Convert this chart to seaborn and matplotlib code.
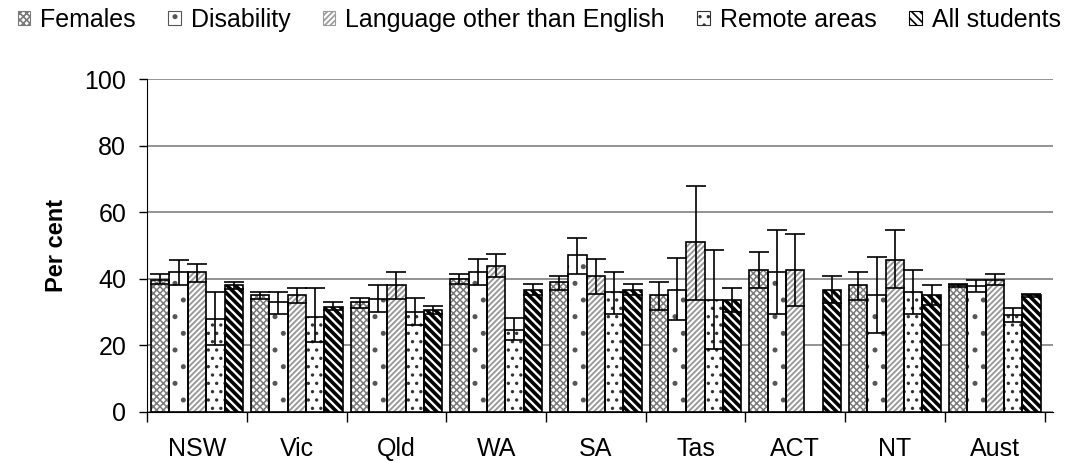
import numpy as np
import pandas as pd
import matplotlib
matplotlib.use('Agg')
import matplotlib.pyplot as plt
import seaborn as sns
from matplotlib.patches import Rectangle, Patch

states = ['NSW', 'Vic', 'Qld', 'WA', 'SA', 'Tas', 'ACT', 'NT', 'Aust']
groups = ['Females', 'Disability', 'Language other than English', 'Remote areas', 'All students']

females = [39.7, 35.0, 33.0, 39.8, 39.0, 35.0, 42.6, 38.0, 38.0]
disability = [42.1, 33.0, 33.8, 42.1, 47.0, 36.6, 42.0, 35.0, 37.8]
language = [42.0, 35.0, 38.0, 43.8, 40.8, 51.0, 42.6, 45.6, 39.6]
remote = [27.8, 28.6, 30.0, 24.6, 36.0, 33.6, 0.0, 36.0, 29.0]
all_students = [38.0, 31.6, 30.6, 36.6, 36.6, 33.6, 36.6, 35.0, 35.0]

# error bar bounds (low, high)
females_lo = [38.3, 34.0, 31.3, 38.3, 36.6, 30.6, 37.3, 33.6, 37.5]
females_hi = [41.3, 36.0, 34.2, 41.3, 40.9, 39.1, 48.0, 42.0, 38.5]
disability_lo = [38.0, 29.4, 30.0, 38.0, 41.4, 27.6, 29.4, 23.6, 36.0]
disability_hi = [45.7, 36.0, 38.0, 46.0, 52.2, 46.2, 54.6, 46.4, 39.6]
language_lo = [39.0, 32.7, 34.0, 40.4, 35.4, 33.6, 31.8, 37.3, 38.0]
language_hi = [44.4, 37.2, 42.0, 47.4, 46.0, 68.0, 53.4, 54.6, 41.4]
remote_lo = [20.0, 21.0, 26.0, 21.6, 29.4, 19.0, np.nan, 29.4, 27.0]
remote_hi = [36.0, 37.2, 34.2, 28.3, 42.0, 48.6, np.nan, 42.6, 31.2]
all_lo = [37.0, 30.6, 29.4, 35.0, 35.0, 30.0, 32.7, 32.0, 34.5]
all_hi = [39.0, 33.0, 31.8, 38.4, 38.4, 37.3, 40.8, 38.0, 35.5]

values = [females, disability, language, remote, all_students]
lows = [females_lo, disability_lo, language_lo, remote_lo, all_lo]
highs = [females_hi, disability_hi, language_hi, remote_hi, all_hi]

df = pd.DataFrame({
    'State': np.tile(states, len(groups)),
    'Group': np.repeat(groups, len(states)),
    'Value': np.concatenate(values),
})

hatches = ['xxxxx', '.', '//////', '..', '\\\\\\\\']
hatch_cols = ['#7a7a7a', '#555555', '#9a9a9a', '#333333', '#000000']
hatch_lws = [1.1, 1.2, 1.4, 1.2, 2.6]

plt.rcParams['font.family'] = ['Liberation Sans', 'DejaVu Sans']
plt.rcParams['hatch.linewidth'] = 1.2

fig, ax = plt.subplots(figsize=(10.74, 4.61), dpi=100)
fig.subplots_adjust(left=0.137, right=0.98, top=0.828, bottom=0.107)

sns.barplot(data=df, x='State', y='Value', hue='Group', hue_order=groups,
            order=states, palette=['white'] * 5, width=0.92, errorbar=None,
            saturation=1, legend=False, ax=ax, zorder=2)

bar_conts = list(ax.containers)
for i, cont in enumerate(bar_conts):
    for j, bar in enumerate(cont.patches):
        bar.set_facecolor('white')
        bar.set_edgecolor(hatch_cols[i])
        bar.set_linewidth(0)
        bar.set_hatch(hatches[i])
        try:
            bar.set_hatch_linewidth(hatch_lws[i])
        except AttributeError:
            pass
        ax.add_patch(Rectangle(bar.get_xy(), bar.get_width(), bar.get_height(),
                               facecolor='none', edgecolor='black', lw=1.2, zorder=3))
        x = bar.get_x() + bar.get_width() / 2
        lo, hi = lows[i][j], highs[i][j]
        if not np.isnan(lo):
            ax.errorbar(x, values[i][j], yerr=[[values[i][j] - lo], [hi - values[i][j]]],
                        fmt='none', ecolor='black', elinewidth=1.2, capsize=7,
                        capthick=1.2, zorder=4)

ax.set_ylim(0, 100)
ax.set_yticks([0, 20, 40, 60, 80, 100])
ax.set_xlim(-0.5, len(states) - 0.5 + 0.08)
ax.yaxis.grid(True, color='#808080', lw=1.2, zorder=0)
ax.set_axisbelow(True)
for s in ['top', 'right']:
    ax.spines[s].set_visible(False)
ax.spines['left'].set_color('black')
ax.spines['bottom'].set_color('black')
ax.set_xticks(np.arange(len(states) + 1) - 0.5, minor=True)
ax.tick_params(axis='x', which='major', length=0, labelsize=18, pad=18)
ax.tick_params(axis='x', which='minor', length=7, direction='out', width=1)
ax.tick_params(axis='y', length=6, direction='out', labelsize=18, width=1, pad=9)
ax.set_xlabel('')
ax.set_ylabel('Per cent', fontsize=17, fontweight='bold', labelpad=12)

handles = []
for i in range(5):
    h = Patch(facecolor='white', edgecolor=hatch_cols[i], hatch=hatches[i], lw=0.8)
    try:
        h.set_hatch_linewidth(hatch_lws[i] * 0.7)
    except AttributeError:
        pass
    handles.append(h)
fig.legend(handles, groups, loc='upper center', bbox_to_anchor=(0.502, 1.015), ncol=5,
           frameon=False, fontsize=18, handlelength=0.5, handleheight=0.5,
           handletextpad=0.4, columnspacing=1.3, borderaxespad=0.2)

plt.savefig('out.png', dpi=100)
